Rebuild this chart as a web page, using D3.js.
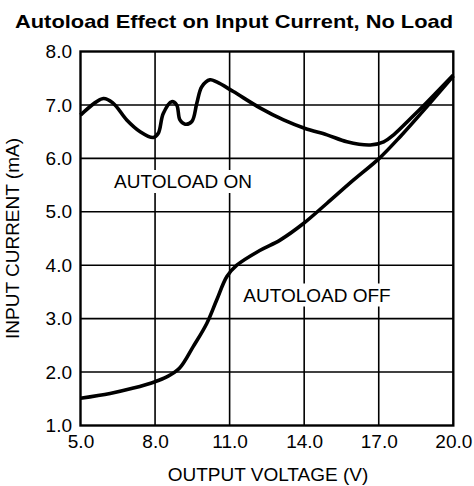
<!DOCTYPE html>
<html>
<head>
<meta charset="utf-8">
<script src="https://cdn.jsdelivr.net/npm/d3@7"></script>
<style>
  html, body { margin: 0; padding: 0; background: #fff; }
  svg { display: block; font-family: "Liberation Sans", Arial, Helvetica, sans-serif; }
</style>
</head>
<body>
<svg id="chart" width="474" height="486"></svg>
<script>
// ---- data ----
const xTicks = [5, 8, 11, 14, 17, 20];
const yTicks = [1, 2, 3, 4, 5, 6, 7, 8];

const onVoltage = [5.0, 5.92, 6.32, 6.86, 7.4, 7.93, 8.13, 8.33, 8.67, 8.87, 9.0, 9.21, 9.48, 9.68, 9.88, 10.21, 10.48, 11.15, 12.2, 13.17, 14.04, 14.92, 15.72, 16.66, 17.2, 17.6, 18.27, 18.94, 20.0];
const onCurrent = [6.81, 7.12, 7.03, 6.72, 6.50, 6.39, 6.47, 6.84, 7.06, 7.0, 6.72, 6.64, 6.69, 7.03, 7.34, 7.47, 7.43, 7.25, 6.95, 6.72, 6.56, 6.44, 6.31, 6.25, 6.31, 6.44, 6.74, 7.05, 7.56];

const offVoltage = [5.0, 6.19, 7.13, 8.0, 8.47, 8.98, 9.54, 10.08, 10.48, 10.89, 11.29, 12.23, 13.03, 13.97, 14.92, 16.0, 17.02, 17.87, 18.94, 20.0];
const offCurrent = [1.51, 1.60, 1.70, 1.82, 1.91, 2.07, 2.48, 2.91, 3.35, 3.79, 4.0, 4.28, 4.47, 4.78, 5.16, 5.6, 6.0, 6.41, 6.97, 7.54];

const titleText = "Autoload Effect on Input Current, No Load";
const xLabel = "OUTPUT VOLTAGE (V)";
const yLabel = "INPUT CURRENT (mA)";
const onLabel = "AUTOLOAD ON";
const offLabel = "AUTOLOAD OFF";

// ---- layout ----
const svg = d3.select("#chart");
const L = 80.5, R = 453.3, T = 51.5, B = 425.5;
const x = d3.scaleLinear().domain([5, 20]).range([L, R]);
const y = d3.scaleLinear().domain([1, 8]).range([B, T]);
const fmt = d3.format(".1f");

// title
svg.append("text").attr("x", 15).attr("y", 28.3)
  .attr("font-size", 19).attr("font-weight", "bold")
  .attr("textLength", 438).attr("lengthAdjust", "spacingAndGlyphs").text(titleText);

// grid
svg.append("g").selectAll("line").data(xTicks.slice(1, -1)).join("line")
  .attr("x1", d => x(d)).attr("x2", d => x(d)).attr("y1", T).attr("y2", B)
  .attr("stroke", "#000").attr("stroke-width", 1.6);
svg.append("g").selectAll("line").data(yTicks.slice(1, -1)).join("line")
  .attr("y1", d => y(d)).attr("y2", d => y(d)).attr("x1", L).attr("x2", R)
  .attr("stroke", "#000").attr("stroke-width", 1.6);

// axes (labels only)
const xAxis = svg.append("g").attr("transform", `translate(0,${B})`)
  .call(d3.axisBottom(x).tickValues(xTicks).tickFormat(fmt).tickSize(0).tickPadding(9.5));
xAxis.select(".domain").remove();
xAxis.selectAll("text").attr("font-size", 19).attr("font-family", null).attr("fill", "#000");

const yAxis = svg.append("g").attr("transform", `translate(${L},0)`)
  .call(d3.axisLeft(y).tickValues(yTicks).tickFormat(fmt).tickSize(0).tickPadding(8.5));
yAxis.select(".domain").remove();
yAxis.selectAll("text").attr("font-size", 19).attr("font-family", null).attr("fill", "#000");

// axis titles
svg.append("text").attr("x", 268).attr("y", 481).attr("text-anchor", "middle")
  .attr("font-size", 19).text(xLabel);
svg.append("text").attr("transform", `translate(18.5,${(T + B) / 2}) rotate(-90)`)
  .attr("text-anchor", "middle").attr("font-size", 19).text(yLabel);

// series labels with white boxes
function label(txt, cx, baseline) {
  const t = svg.append("text").attr("x", cx).attr("y", baseline).attr("text-anchor", "middle")
    .attr("font-size", 19).text(txt);
  const bb = t.node().getBBox();
  svg.insert("rect", () => t.node())
    .attr("x", bb.x - 5).attr("y", bb.y - 1).attr("width", bb.width + 10).attr("height", bb.height + 2)
    .attr("fill", "#fff");
}
label(onLabel, 183, 188);
label(offLabel, 317, 301.5);

// curves
const line = d3.line().x(d => x(d[0])).y(d => y(d[1])).curve(d3.curveCatmullRom.alpha(0.5));
svg.append("path").datum(d3.zip(offVoltage, offCurrent)).attr("d", line)
  .attr("fill", "none").attr("stroke", "#000").attr("stroke-width", 3.6).attr("stroke-linejoin", "round");
svg.append("path").datum(d3.zip(onVoltage, onCurrent)).attr("d", line)
  .attr("fill", "none").attr("stroke", "#000").attr("stroke-width", 3.6).attr("stroke-linejoin", "round");

// border
svg.append("rect").attr("x", L).attr("y", T).attr("width", R - L).attr("height", B - T)
  .attr("fill", "none").attr("stroke", "#000").attr("stroke-width", 2.4);
</script>
</body>
</html>
